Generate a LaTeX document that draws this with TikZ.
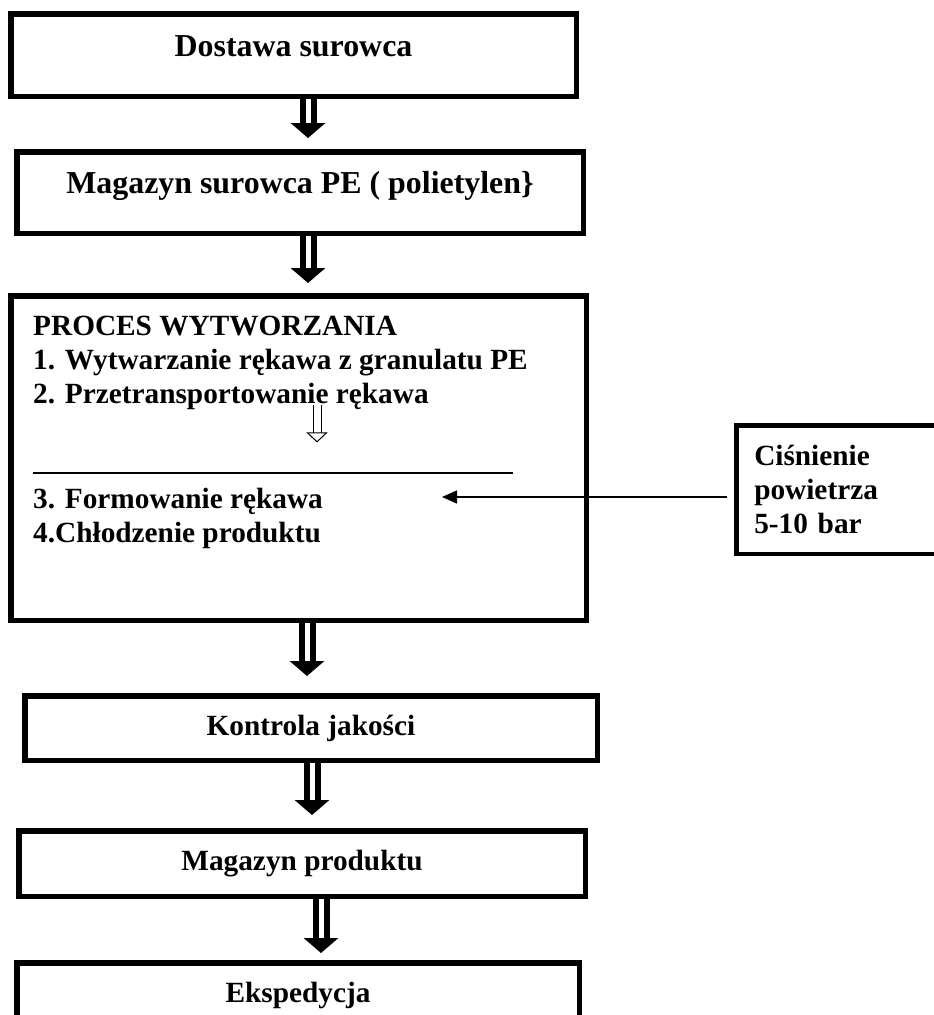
\documentclass[tikz,border=0pt]{standalone}
\usepackage{fontspec}
\setmainfont{Liberation Serif}
\usetikzlibrary{arrows.meta,positioning}

\begin{document}
\begin{tikzpicture}[x=1pt, y=-1pt,
    box/.style={draw, line width=5.5pt, align=center, inner sep=0pt, font=\fontsize{29.3}{34}\selectfont\bfseries},
    bigbox/.style={box, font=\fontsize{31.9}{37}\selectfont\bfseries},
    txt/.style={align=left, inner sep=0pt, font=\fontsize{29.3}{34}\selectfont\bfseries},
    bigarr/.style={line width=6pt, double distance=5pt, -{Triangle[length=15pt, width=34pt]}},
    hollowarr/.style={line width=1pt, double distance=7pt, -{Triangle[open, length=10pt, width=21pt]}},
    arr/.style={line width=1.5pt, -{Triangle[length=15pt, width=13pt]}}
]
\useasboundingbox (0,0) rectangle (934,1015);
\clip (0,0) rectangle (934,1015);

\node[bigbox, minimum width=565.5pt, minimum height=82.5pt, text depth=17pt] (dostawa) at (293.5,55) {Dostawa surowca};
\node[bigbox, minimum width=566.5pt, minimum height=81.5pt, text depth=21pt] (magsur) at (300,192.5) {Magazyn surowca PE ( polietylen\}};
\node[box, minimum width=575.5pt, minimum height=324.5pt] (proces) at (298.5,458) {};
\node[box, minimum width=572.5pt, minimum height=64.5pt] (kontrola) at (311,728) {Kontrola jakości};
\node[box, minimum width=566.5pt, minimum height=65.5pt] (magprod) at (302,863.5) {Magazyn produktu};
\node[box, minimum width=562.5pt, minimum height=64.9pt] (eksped) at (298,995.2) {Ekspedycja};

% inside the process box
\node[txt, anchor=base west] (etap12) at (33,403) {PROCES WYTWORZANIA\\1. Wytwarzanie rękawa z granulatu PE\\2. Przetransportowanie rękawa};
\node[txt, anchor=base west] (etap34) at (33,542) {3. Formowanie rękawa\\4.Chłodzenie produktu};
\draw[line width=1.2pt] (33,473) -- (513,473);

\node[box, line width=4.5pt, anchor=north west, align=left, text width=195.5pt, inner xsep=18pt, minimum height=128.5pt] (cisn) at (734,423) {Ciśnienie\\powietrza\\5-10 bar};
\coordinate (wlot) at (442,497);

\draw[bigarr, shorten >=11pt] (dostawa.south -| 308,0) -- (magsur.north -| 308,0);
\draw[bigarr, shorten >=10pt] (magsur.south -| 308,0) -- (proces.north -| 308,0);
\draw[bigarr, shorten >=17pt] (proces.south -| 307,0) -- (kontrola.north -| 307,0);
\draw[bigarr, shorten >=13pt] (kontrola.south -| 312,0) -- (magprod.north -| 312,0);
\draw[bigarr, shorten >=7pt] (magprod.south -| 321,0) -- (eksped.north -| 321,0);
\draw[hollowarr, shorten <=-4pt, shorten >=45pt] (etap12.south -| 317,0) -- (etap34.north -| 317,0);
\draw[arr, shorten <=7pt] (cisn.west |- wlot) -- (wlot);
\end{tikzpicture}
\end{document}
